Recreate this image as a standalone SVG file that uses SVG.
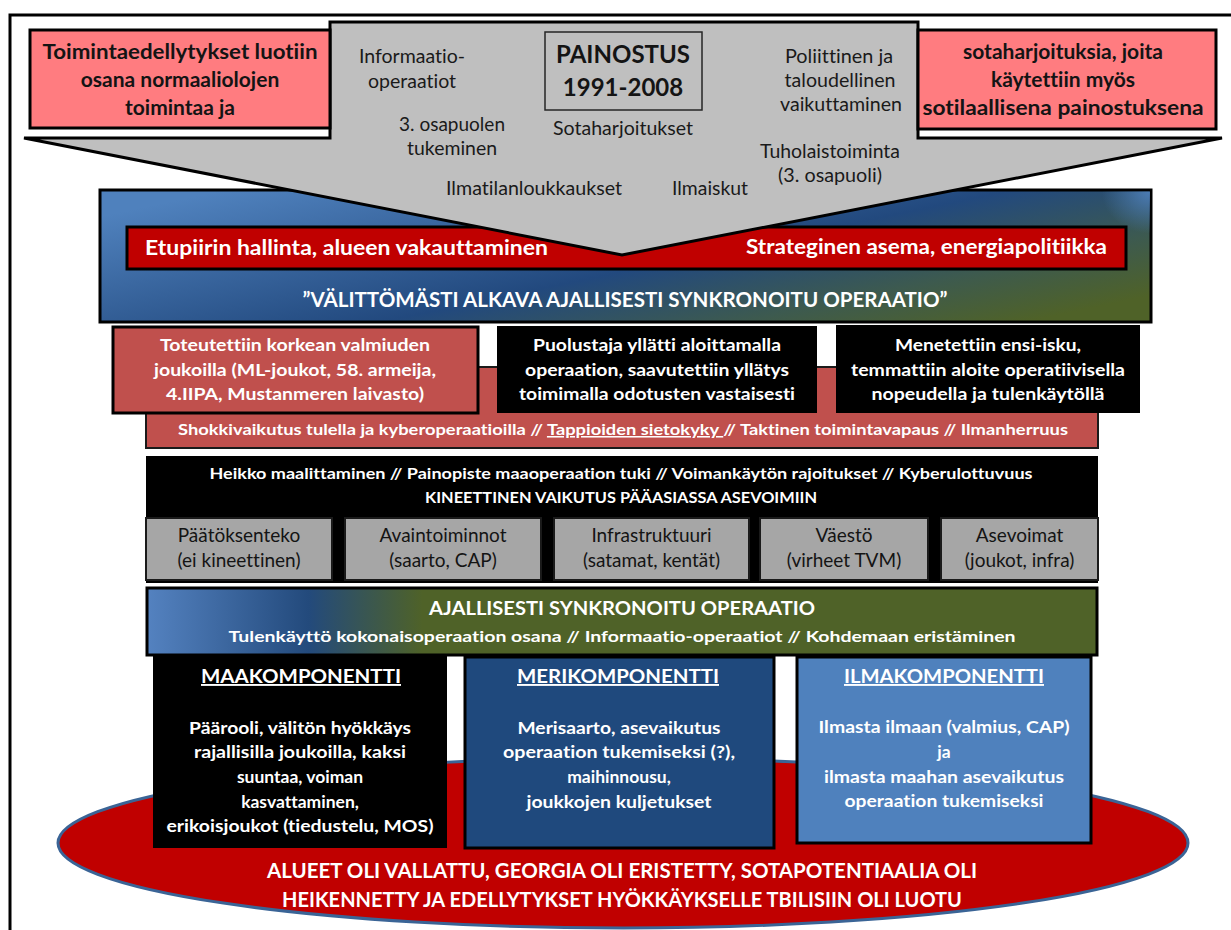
<svg xmlns="http://www.w3.org/2000/svg" width="1231" height="930" viewBox="0 0 1231 930">
<defs>
<style>
text{font-family:Lato,"Liberation Sans",sans-serif;text-anchor:middle;font-variant-ligatures:none;font-feature-settings:"liga" 0,"dlig" 0}
.wb{fill:#fff;font-weight:bold}
.db{fill:#141414;font-weight:bold}
.gr{fill:#1a1a1a;font-size:18.5px}
.r3{font-size:17.5px}
.gb{fill:#a6a6a6;stroke:#1a1a1a;stroke-width:2}
.gt{fill:#141414;font-size:19px}
.ct{font-size:19px;text-decoration:underline}
.cb{font-size:17.5px}
.bk{stroke:#000;stroke-width:3}
</style>
<linearGradient id="gTop" x1="0" y1="0.2" x2="1" y2="0.8">
<stop offset="0" stop-color="#4f81bd"/>
<stop offset="0.55" stop-color="#22497e"/>
<stop offset="0.8" stop-color="#3d5a4f"/>
<stop offset="1" stop-color="#4f6228"/>
</linearGradient>
<radialGradient id="gCorner" cx="1" cy="0" r="0.6">
<stop offset="0" stop-color="#4f81bd" stop-opacity="0.9"/>
<stop offset="1" stop-color="#4f81bd" stop-opacity="0"/>
</radialGradient>
<linearGradient id="gBar" x1="0" y1="0" x2="1" y2="0">
<stop offset="0" stop-color="#5482c0"/>
<stop offset="0.17" stop-color="#234a7c"/>
<stop offset="0.29" stop-color="#4f6228"/>
<stop offset="1" stop-color="#4f6228"/>
</linearGradient>
</defs>
<rect width="1231" height="930" fill="#fff"/>
<rect x="10" y="15" width="1240" height="940" fill="none" stroke="#000" stroke-width="3"/>

<g id="goal-ellipse">
<ellipse cx="623" cy="843" rx="565" ry="85" fill="#c00000" stroke="#3a6496" stroke-width="3"/>
</g>

<g id="objectives">
<rect x="100" y="190" width="1051" height="132" fill="url(#gTop)" class="bk"/>
<rect x="1070" y="191.5" width="80" height="70" fill="url(#gCorner)"/>
<rect x="127" y="227" width="999" height="42" fill="#c00000" class="bk"/>
<text class="wb" x="145" y="255" font-size="20" style="text-anchor:start" textLength="403" lengthAdjust="spacingAndGlyphs">Etupiirin hallinta, alueen vakauttaminen</text>
<text class="wb" x="1107" y="254" font-size="20" style="text-anchor:end" textLength="361" lengthAdjust="spacingAndGlyphs">Strateginen asema, energiapolitiikka</text>
<text class="wb" x="625" y="307" font-size="20" textLength="645" lengthAdjust="spacingAndGlyphs">”VÄLITTÖMÄSTI ALKAVA AJALLISESTI SYNKRONOITU OPERAATIO”</text>
</g>

<g id="painostus">
<path d="M330,22 H918 V138 H1222 L622,255 L24,138 H330 Z" fill="#bfbfbf" stroke="#000" stroke-width="3" stroke-linejoin="miter"/>
<rect x="545" y="32" width="157" height="78" fill="none" stroke="#262626" stroke-width="1.5"/>
<text class="db" x="623" y="63" font-size="24">PAINOSTUS</text>
<text class="db" x="623" y="96" font-size="24">1991-2008</text>
<text class="gr" x="412" y="63" textLength="106" lengthAdjust="spacingAndGlyphs">Informaatio-</text>
<text class="gr" x="412" y="88" textLength="88" lengthAdjust="spacingAndGlyphs">operaatiot</text>
<text class="gr" x="452" y="131" textLength="106" lengthAdjust="spacingAndGlyphs">3. osapuolen</text>
<text class="gr" x="452" y="155" textLength="90" lengthAdjust="spacingAndGlyphs">tukeminen</text>
<text class="gr" x="623" y="135" textLength="140" lengthAdjust="spacingAndGlyphs">Sotaharjoitukset</text>
<text class="gr" x="534" y="195" textLength="176" lengthAdjust="spacingAndGlyphs">Ilmatilanloukkaukset</text>
<text class="gr" x="710" y="195" textLength="76" lengthAdjust="spacingAndGlyphs">Ilmaiskut</text>
<text class="gr" x="839" y="63" textLength="108" lengthAdjust="spacingAndGlyphs">Poliittinen ja</text>
<text class="gr" x="840" y="87" textLength="111" lengthAdjust="spacingAndGlyphs">taloudellinen</text>
<text class="gr" x="841" y="111" textLength="122" lengthAdjust="spacingAndGlyphs">vaikuttaminen</text>
<text class="gr" x="830" y="158" textLength="140" lengthAdjust="spacingAndGlyphs">Tuholaistoiminta</text>
<text class="gr" x="830" y="182" textLength="104" lengthAdjust="spacingAndGlyphs">(3. osapuoli)</text>
</g>

<g id="pink-left">
<rect x="30" y="30" width="300" height="98" fill="#ff7c80" class="bk"/>
<text class="db" x="180" y="59" font-size="21" textLength="275" lengthAdjust="spacingAndGlyphs">Toimintaedellytykset luotiin</text>
<text class="db" x="180" y="87" font-size="21">osana normaaliolojen</text>
<text class="db" x="180" y="115" font-size="21">toimintaa ja</text>
</g>

<g id="pink-right">
<rect x="918" y="30" width="298" height="99" fill="#ff7c80" class="bk"/>
<text class="db" x="1063" y="59" font-size="21">sotaharjoituksia, joita</text>
<text class="db" x="1063" y="87" font-size="21">käytettiin myös</text>
<text class="db" x="1063" y="115" font-size="21" textLength="281" lengthAdjust="spacingAndGlyphs">sotilaallisena painostuksena</text>
</g>

<g id="shock-band">
<rect x="146" y="367" width="952" height="81" fill="#c0504d" stroke="#1a1a1a" stroke-width="2"/>
<text class="wb" x="623" y="435" font-size="15.5" textLength="890" lengthAdjust="spacingAndGlyphs">Shokkivaikutus tulella ja kyberoperaatioilla // <tspan text-decoration="underline">Tappioiden sietokyky </tspan>// Taktinen toimintavapaus // Ilmanherruus</text>
</g>

<g id="readiness">
<rect x="113" y="327" width="365" height="86" fill="#c0504d" class="bk"/>
<text class="wb r3" x="295" y="351" textLength="270" lengthAdjust="spacingAndGlyphs">Toteutettiin korkean valmiuden</text>
<text class="wb r3" x="295" y="376" textLength="282" lengthAdjust="spacingAndGlyphs">joukoilla (ML-joukot, 58. armeija,</text>
<text class="wb r3" x="295" y="400" textLength="258" lengthAdjust="spacingAndGlyphs">4.IIPA, Mustanmeren laivasto)</text>
</g>

<g id="surprise">
<rect x="497" y="326" width="320" height="87" fill="#000"/>
<text class="wb r3" x="657" y="351" textLength="248" lengthAdjust="spacingAndGlyphs">Puolustaja yllätti aloittamalla</text>
<text class="wb r3" x="657" y="376" textLength="264" lengthAdjust="spacingAndGlyphs">operaation, saavutettiin yllätys</text>
<text class="wb r3" x="657" y="400" textLength="276" lengthAdjust="spacingAndGlyphs">toimimalla odotusten vastaisesti</text>
</g>

<g id="initiative">
<rect x="836" y="325" width="304" height="88" fill="#000"/>
<text class="wb r3" x="988" y="351" textLength="186" lengthAdjust="spacingAndGlyphs">Menetettiin ensi-isku,</text>
<text class="wb r3" x="988" y="376" textLength="274" lengthAdjust="spacingAndGlyphs">temmattiin aloite operatiivisella</text>
<text class="wb r3" x="988" y="400" textLength="233" lengthAdjust="spacingAndGlyphs">nopeudella ja tulenkäytöllä</text>
</g>

<g id="kinetic">
<rect x="146" y="456" width="952" height="127" fill="#000"/>
<text class="wb" x="621" y="479" font-size="15.5" textLength="823" lengthAdjust="spacingAndGlyphs">Heikko maalittaminen // Painopiste maaoperaation tuki // Voimankäytön rajoitukset // Kyberulottuvuus</text>
<text class="wb" x="621" y="503" font-size="15.5" textLength="392" lengthAdjust="spacingAndGlyphs">KINEETTINEN VAIKUTUS PÄÄASIASSA ASEVOIMIIN</text>
</g>

<g id="target-paatoksenteko">
<rect x="146" y="518" width="186" height="62" class="gb"/>
<text class="gt" x="239" y="542">Päätöksenteko</text>
<text class="gt" x="239" y="567">(ei kineettinen)</text>
</g>
<g id="target-avaintoiminnot">
<rect x="345" y="518" width="196" height="62" class="gb"/>
<text class="gt" x="443" y="542">Avaintoiminnot</text>
<text class="gt" x="443" y="567">(saarto, CAP)</text>
</g>
<g id="target-infrastruktuuri">
<rect x="554" y="518" width="195" height="62" class="gb"/>
<text class="gt" x="651.5" y="542">Infrastruktuuri</text>
<text class="gt" x="651.5" y="567">(satamat, kentät)</text>
</g>
<g id="target-vaesto">
<rect x="760" y="518" width="168" height="62" class="gb"/>
<text class="gt" x="844" y="542">Väestö</text>
<text class="gt" x="844" y="567">(virheet TVM)</text>
</g>
<g id="target-asevoimat">
<rect x="941" y="518" width="157" height="62" class="gb"/>
<text class="gt" x="1019.5" y="542">Asevoimat</text>
<text class="gt" x="1019.5" y="567">(joukot, infra)</text>
</g>

<g id="sync-operation">
<rect x="147" y="588" width="950" height="67" fill="url(#gBar)" class="bk"/>
<text class="wb" x="622" y="615" font-size="18.5" textLength="386" lengthAdjust="spacingAndGlyphs">AJALLISESTI SYNKRONOITU OPERAATIO</text>
<text class="wb" x="622" y="642" font-size="16" textLength="787" lengthAdjust="spacingAndGlyphs">Tulenkäyttö kokonaisoperaation  osana // Informaatio-operaatiot // Kohdemaan eristäminen</text>
</g>

<g id="maakomponentti">
<rect x="153" y="655" width="294" height="193" fill="#000"/>
<text class="wb ct" x="301" y="683" textLength="200" lengthAdjust="spacingAndGlyphs">MAAKOMPONENTTI</text>
<text class="wb cb" x="300" y="734" textLength="222" lengthAdjust="spacingAndGlyphs">Päärooli, välitön hyökkäys</text>
<text class="wb cb" x="300" y="758" textLength="212" lengthAdjust="spacingAndGlyphs">rajallisilla joukoilla, kaksi</text>
<text class="wb cb" x="300" y="783">suuntaa, voiman</text>
<text class="wb cb" x="300" y="808">kasvattaminen,</text>
<text class="wb cb" x="300" y="832" textLength="267" lengthAdjust="spacingAndGlyphs">erikoisjoukot (tiedustelu, MOS)</text>
</g>

<g id="merikomponentti">
<rect x="465" y="657" width="309" height="191" fill="#1f497d" class="bk"/>
<text class="wb ct" x="618" y="683" textLength="202" lengthAdjust="spacingAndGlyphs">MERIKOMPONENTTI</text>
<text class="wb cb" x="619" y="734" textLength="203" lengthAdjust="spacingAndGlyphs">Merisaarto, asevaikutus</text>
<text class="wb cb" x="619" y="758" textLength="232" lengthAdjust="spacingAndGlyphs">operaation tukemiseksi (?),</text>
<text class="wb cb" x="619" y="783">maihinnousu,</text>
<text class="wb cb" x="619" y="808" textLength="185" lengthAdjust="spacingAndGlyphs">joukkojen kuljetukset</text>
</g>

<g id="ilmakomponentti">
<rect x="797" y="657" width="294" height="186" fill="#4f81bd" class="bk"/>
<text class="wb ct" x="944" y="683" textLength="200" lengthAdjust="spacingAndGlyphs">ILMAKOMPONENTTI</text>
<text class="wb cb" x="944" y="733" textLength="251" lengthAdjust="spacingAndGlyphs">Ilmasta ilmaan (valmius, CAP)</text>
<text class="wb cb" x="944" y="758">ja</text>
<text class="wb cb" x="944" y="783" textLength="240" lengthAdjust="spacingAndGlyphs">ilmasta maahan asevaikutus</text>
<text class="wb cb" x="944" y="807" textLength="199" lengthAdjust="spacingAndGlyphs">operaation tukemiseksi</text>
</g>

<g id="goal-text">
<text class="wb" x="622" y="878" font-size="20" textLength="710" lengthAdjust="spacingAndGlyphs">ALUEET OLI VALLATTU, GEORGIA OLI ERISTETTY, SOTAPOTENTIAALIA OLI</text>
<text class="wb" x="622" y="907" font-size="20" textLength="680" lengthAdjust="spacingAndGlyphs">HEIKENNETTY JA EDELLYTYKSET HYÖKKÄYKSELLE TBILISIIN OLI LUOTU</text>
</g>

<g id="connectors"/>
</svg>
